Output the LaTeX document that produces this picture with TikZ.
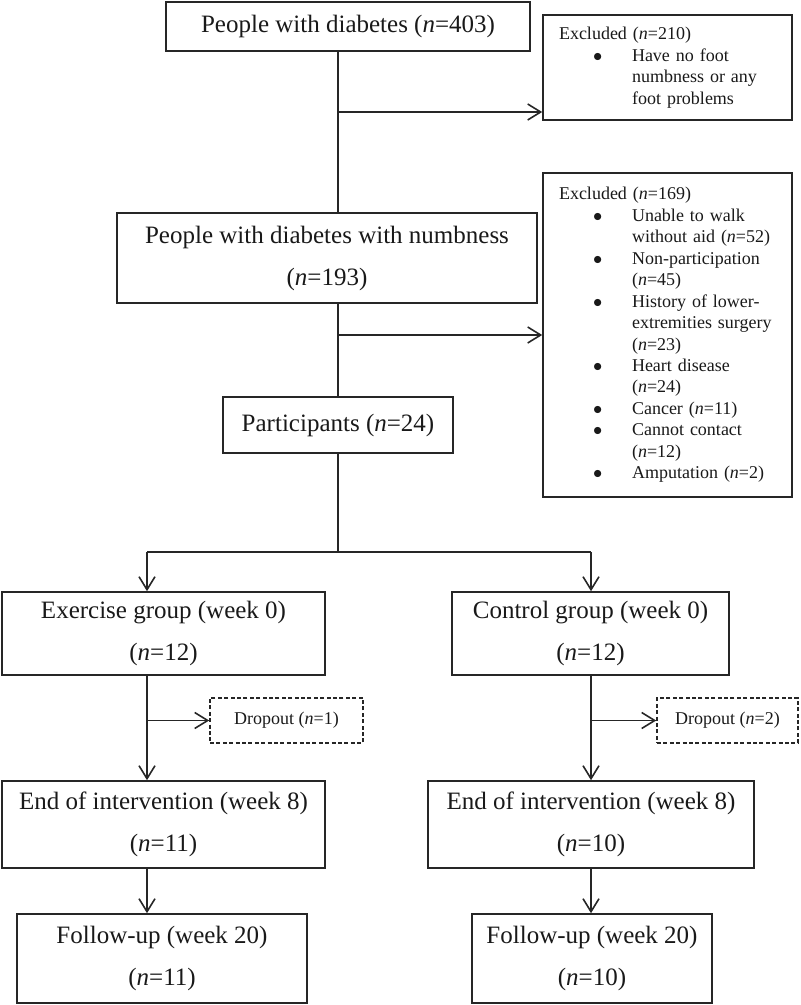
\documentclass[tikz,border=0pt]{standalone}
\usepackage{fontspec}
\setmainfont{Liberation Serif}
\usetikzlibrary{arrows.meta,positioning}
\newcommand{\exbul}{\hspace*{17pt}\makebox[19.5pt][l]{$\bullet$}}
\newcommand{\exind}{\hspace*{36.5pt}}

\begin{document}
\begin{tikzpicture}[x=0.5pt,y=-0.5pt]
\tikzset{
  flowbox/.style={draw=black!85,line width=0.8pt,align=center,inner sep=2pt,text=black!90,font=\fontsize{12.5}{21}\selectfont},
  exclbox/.style={draw=black!85,line width=0.8pt,align=left,inner xsep=8pt,text width=108.5pt,text=black!90,font=\fontsize{9}{10.73}\selectfont},
  dropbox/.style={draw=black!85,line width=0.8pt,dash pattern=on 2pt off 1.2pt,text=black!90,font=\fontsize{9}{10.7}\selectfont},
  flowline/.style={draw=black!85,line width=0.8pt},
  flowarrow/.style={flowline,-{Straight Barb[length=6.5pt,width=8pt]}}
}
\useasboundingbox (0,0) rectangle (800,1005);
\node[flowbox,minimum width=182pt,minimum height=24.5pt] (n_all) at (348,26.5) {People with diabetes (\textit{n}=403)};
\node[exclbox,minimum height=52.5pt] (n_excl1) at (667.5,67.5) {Excluded (\textit{n}=210)\\
\exbul Have no foot\\
\exind numbness or any\\
\exind foot problems};
\node[flowbox,minimum width=210pt,minimum height=45pt] (n_numb) at (327,258) {People with diabetes with numbness\\(\textit{n}=193)};
\node[exclbox,minimum height=162pt] (n_excl2) at (667.5,335) {Excluded (\textit{n}=169)\\
\exbul Unable to walk\\
\exind without aid (\textit{n}=52)\\
\exbul Non-participation\\
\exind (\textit{n}=45)\\
\exbul History of lower-\\
\exind extremities surgery\\
\exind (\textit{n}=23)\\
\exbul Heart disease\\
\exind (\textit{n}=24)\\
\exbul Cancer (\textit{n}=11)\\
\exbul Cannot contact\\
\exind (\textit{n}=12)\\
\exbul Amputation (\textit{n}=2)};
\node[flowbox,minimum width=115pt,minimum height=28pt] (n_part) at (338,425) {Participants (\textit{n}=24)};
\node[flowbox,minimum width=161.5pt,minimum height=41.5pt] (n_exer0) at (163.5,633.5) {Exercise group (week 0)\\(\textit{n}=12)};
\node[flowbox,minimum width=138.5pt,minimum height=41.5pt] (n_ctrl0) at (590.5,633.5) {Control group (week 0)\\(\textit{n}=12)};
\node[dropbox,minimum width=76.5pt,minimum height=22.5pt] (n_drop1) at (286.5,720.5) {Dropout (\textit{n}=1)};
\node[dropbox,minimum width=70.5pt,minimum height=22.5pt] (n_drop2) at (727.5,720.5) {Dropout (\textit{n}=2)};
\node[flowbox,minimum width=161.5pt,minimum height=43.5pt] (n_exer8) at (163.5,824.5) {End of intervention (week 8)\\(\textit{n}=11)};
\node[flowbox,minimum width=163pt,minimum height=43.5pt] (n_ctrl8) at (591,824.5) {End of intervention (week 8)\\(\textit{n}=10)};
\node[flowbox,minimum width=145pt,minimum height=44.5pt] (n_exer20) at (162,958.5) {Follow-up (week 20)\\(\textit{n}=11)};
\node[flowbox,minimum width=120pt,minimum height=44.5pt] (n_ctrl20) at (592,958.5) {Follow-up (week 20)\\(\textit{n}=10)};
\coordinate (c_excl1) at (338,112);
\coordinate (c_split) at (338,552);
\coordinate (c_left) at (147,552);
\coordinate (c_right) at (591,552);
\draw[flowline] (n_all.south -| n_part) -- (n_numb.north -| n_part);
\draw[flowarrow] (c_excl1) -- (c_excl1 -| n_excl1.west);
\draw[flowline] (n_numb.south -| n_part) -- (n_part.north);
\draw[flowarrow] (n_excl2.west -| n_part) -- (n_excl2.west);
\draw[flowline] (n_part.south) -- (c_split);
\draw[flowline] (c_left) -- (c_right);
\draw[flowarrow] (c_left) -- (n_exer0.north -| c_left);
\draw[flowarrow] (c_right) -- (n_ctrl0.north -| c_right);
\draw[flowarrow] (n_exer0.south -| c_left) -- (n_exer8.north -| c_left);
\draw[flowarrow] (n_drop1.west -| c_left) -- (n_drop1.west);
\draw[flowarrow] (n_ctrl0.south -| c_right) -- (n_ctrl8.north -| c_right);
\draw[flowarrow] (n_drop2.west -| c_right) -- (n_drop2.west);
\draw[flowarrow] (n_exer8.south -| c_left) -- (n_exer20.north -| c_left);
\draw[flowarrow] (n_ctrl8.south -| c_right) -- (n_ctrl20.north -| c_right);
\end{tikzpicture}
\end{document}
